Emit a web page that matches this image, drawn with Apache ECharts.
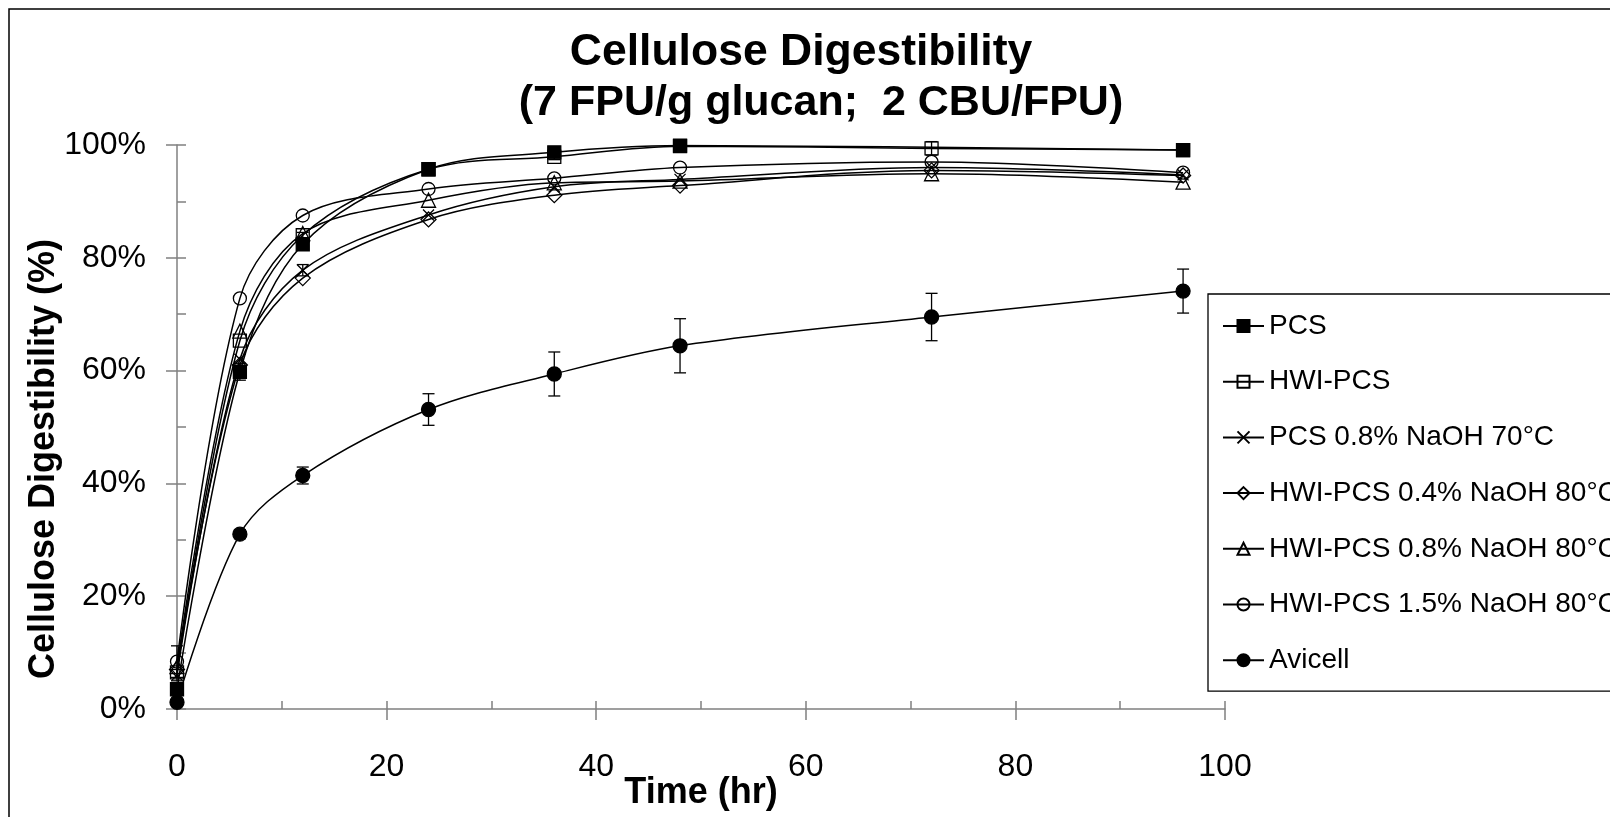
<!DOCTYPE html>
<html>
<head>
<meta charset="utf-8">
<title>Cellulose Digestibility</title>
<script src="https://cdn.jsdelivr.net/npm/echarts@6/dist/echarts.min.js"></script>
<style>
  html, body { margin: 0; padding: 0; background: #fff; }
  #chart { width: 1610px; height: 817px; }
</style>
</head>
<body>
<div id="chart"></div>
<script>
// hydrolysis time (hr)
var hours = [0, 6, 12, 24, 36, 48, 72, 96];

// digestibility (%) per sample, '-' = no point
var pcs      = [3.5, 59.8, 82.4, 95.7, 98.7, 99.9, '-', 99.1];
var hwiPcs   = [6.5, 65.3, 84.0, 95.7, 97.9, 99.8, 99.4, 99.1];
var pcs08_70 = [6.0, 62.0, 77.8, 87.6, 92.6, 93.9, 96.0, 94.7];
var hwi04_80 = [7.0, 61.0, 76.4, 86.8, 91.1, 92.8, 95.5, 94.6];
var hwi08_80 = [7.5, 67.0, 84.3, 90.2, 93.3, 93.6, 94.9, 93.4];
var hwi15_80 = [8.4, 72.8, 87.5, 92.2, 94.1, 96.0, 97.0, 95.1];
var avicell  = [1.2, 31.0, 41.4, 53.1, 59.4, 64.4, 69.5, 74.1];

// error bars (+/- %)
var pcsErr      = [0, 1.5, 0.8, 0, 0.5, 0, 0, 0];
var hwiPcsErr   = [0, 0, 0.5, 0, 0.5, 0, 1.2, 0];
var pcs08_70Err = [1.0, 0, 1.0, 0, 0, 0, 0, 0];
var hwi15_80Err = [2.8, 0, 0, 0, 0, 0, 0, 0];
var avicellErr  = [0.5, 0.8, 1.5, 2.8, 3.9, 4.8, 4.2, 3.9];

var names = ['PCS', 'HWI-PCS', 'PCS 0.8% NaOH 70°C', 'HWI-PCS 0.4% NaOH 80°C',
             'HWI-PCS 0.8% NaOH 80°C', 'HWI-PCS 1.5% NaOH 80°C', 'Avicell'];

var yTicks = [0, 20, 40, 60, 80, 100];
var xTicks = [0, 20, 40, 60, 80, 100];

var font = 'Liberation Sans, Arial, sans-serif';
var crossSymbol = 'path://M0,0L10,10M10,0L0,10';

var chart = echarts.init(document.getElementById('chart'));

function lineSeries(name, values, symbol, size, filled) {
  return {
    name: name,
    type: 'line',
    smooth: 0.33,
    connectNulls: true,
    data: hours.map(function(h, i) { return [h, values[i]]; }),
    symbol: symbol,
    symbolSize: size,
    lineStyle: { color: '#000', width: 1.5 },
    itemStyle: {
      color: filled ? '#000' : 'rgba(255,255,255,0)',
      borderColor: '#000',
      borderWidth: 1.3
    },
    emphasis: { disabled: true },
    z: 3
  };
}

function errorSeries(values, errs) {
  var data = [];
  hours.forEach(function(h, i) {
    if (errs[i] > 0 && values[i] !== '-') {
      data.push([h, values[i] - errs[i], values[i] + errs[i]]);
    }
  });
  return {
    type: 'custom',
    silent: true,
    data: data,
    encode: { x: 0, y: [1, 2] },
    z: 2,
    renderItem: function(params, api) {
      var lo = api.coord([api.value(0), api.value(1)]);
      var hi = api.coord([api.value(0), api.value(2)]);
      var w = 6;
      var style = { stroke: '#000', lineWidth: 1.3 };
      return {
        type: 'group',
        children: [
          { type: 'line', shape: { x1: lo[0], y1: lo[1], x2: hi[0], y2: hi[1] }, style: style },
          { type: 'line', shape: { x1: lo[0] - w, y1: lo[1], x2: lo[0] + w, y2: lo[1] }, style: style },
          { type: 'line', shape: { x1: hi[0] - w, y1: hi[1], x2: hi[0] + w, y2: hi[1] }, style: style }
        ]
      };
    }
  };
}

var gridBox = { left: 177, right: 385, top: 145, bottom: 108, outerBoundsMode: 'none' };
var axisColor = '#808080';

var option = {
  animation: false,
  backgroundColor: '#fff',
  title: [
    {
      text: 'Cellulose Digestibility',
      left: 796, top: 25, textAlign: 'center',
      textStyle: { fontFamily: font, fontSize: 44.5, fontWeight: 'bold', color: '#000' }
    },
    {
      text: '(7 FPU/g glucan;  2 CBU/FPU)',
      left: 816, top: 77, textAlign: 'center',
      textStyle: { fontFamily: font, fontSize: 43, fontWeight: 'bold', color: '#000' }
    }
  ],
  graphic: [
    {
      type: 'rect', silent: true, z: 100,
      shape: { x: 9, y: 9, width: 1700, height: 900 },
      style: { fill: 'none', stroke: '#000', lineWidth: 1.5 }
    },
    {
      type: 'text', silent: true,
      x: 44, y: 459, rotation: Math.PI / 2,
      style: {
        text: 'Cellulose Digestibility (%)',
        font: 'bold 36px ' + font,
        fill: '#000', align: 'center', verticalAlign: 'middle'
      }
    }
  ],
  legend: {
    data: names,
    orient: 'vertical',
    left: 1208, top: 294,
    itemWidth: 41, itemHeight: 15, itemGap: 27.7,
    padding: [18, 40, 17, 14],
    borderColor: '#000', borderWidth: 1.3,
    selectedMode: false,
    textStyle: { fontFamily: font, fontSize: 28, color: '#000' }
  },
  grid: [gridBox, gridBox],
  xAxis: [
    {
      type: 'value', gridIndex: 0, min: xTicks[0], max: xTicks[xTicks.length - 1], interval: 20,
      axisLine: { lineStyle: { color: axisColor, width: 1.5 } },
      axisTick: { length: 11, lineStyle: { color: axisColor, width: 1.5 } },
      axisLabel: { margin: 42, fontFamily: font, fontSize: 32, color: '#000' },
      splitLine: { show: false },
      name: 'Time (hr)', nameLocation: 'middle', nameGap: 66, nameMoveOverlap: false,
      nameTextStyle: { fontFamily: font, fontSize: 36, fontWeight: 'bold', color: '#000' }
    },
    {
      // inner half of the crossing ticks + minor ticks
      type: 'value', gridIndex: 1, min: xTicks[0], max: xTicks[xTicks.length - 1], interval: 20,
      axisLine: { show: false },
      axisTick: { inside: true, length: 8, lineStyle: { color: axisColor, width: 1.5 } },
      minorTick: { show: true, splitNumber: 2, length: 8, lineStyle: { color: axisColor, width: 1.5 } },
      axisLabel: { show: false },
      splitLine: { show: false }
    }
  ],
  yAxis: [
    {
      type: 'value', gridIndex: 0, min: yTicks[0], max: yTicks[yTicks.length - 1], interval: 20,
      axisLine: { show: true, lineStyle: { color: axisColor, width: 1.5 } },
      axisTick: { show: true, length: 11, lineStyle: { color: axisColor, width: 1.5 } },
      axisLabel: {
        margin: 31, fontFamily: font, fontSize: 32, color: '#000',
        formatter: function(v) { return v + '%'; }
      },
      splitLine: { show: false }
    },
    {
      type: 'value', gridIndex: 1, min: yTicks[0], max: yTicks[yTicks.length - 1], interval: 20,
      axisLine: { show: false },
      axisTick: { show: true, inside: true, length: 9, lineStyle: { color: axisColor, width: 1.5 } },
      minorTick: { show: true, splitNumber: 2, length: 9, lineStyle: { color: axisColor, width: 1.5 } },
      axisLabel: { show: false },
      splitLine: { show: false }
    }
  ],
  series: [
    errorSeries(pcs, pcsErr),
    errorSeries(hwiPcs, hwiPcsErr),
    errorSeries(pcs08_70, pcs08_70Err),
    errorSeries(hwi15_80, hwi15_80Err),
    errorSeries(avicell, avicellErr),
    lineSeries(names[0], pcs, 'rect', 13, true),
    lineSeries(names[1], hwiPcs, 'rect', 13, false),
    lineSeries(names[2], pcs08_70, crossSymbol, 11, false),
    lineSeries(names[3], hwi04_80, 'diamond', 15, false),
    lineSeries(names[4], hwi08_80, 'triangle', 14, false),
    lineSeries(names[5], hwi15_80, 'circle', 13, false),
    lineSeries(names[6], avicell, 'circle', 14, true)
  ]
};

chart.setOption(option);
</script>
</body>
</html>
